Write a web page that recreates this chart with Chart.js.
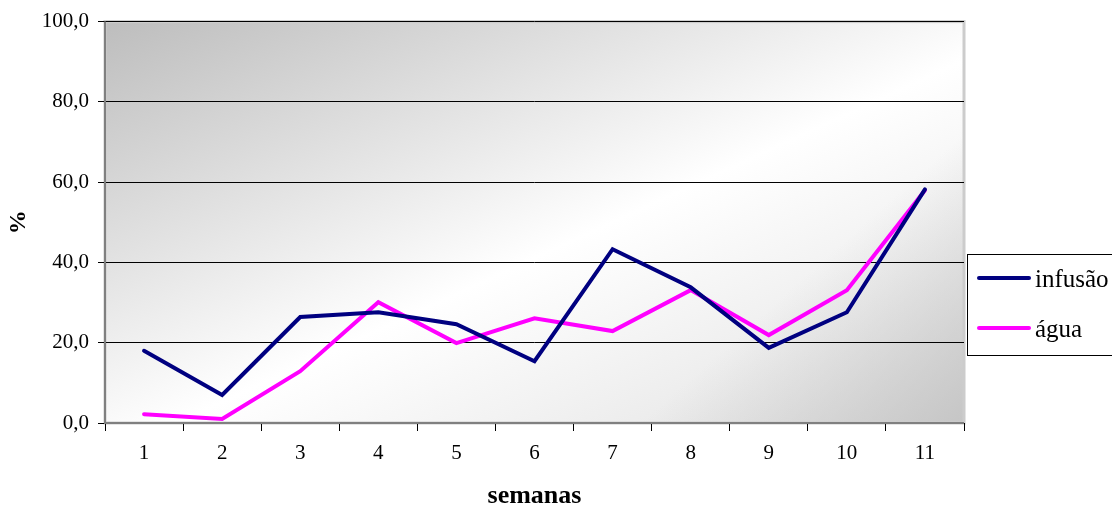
<!DOCTYPE html>
<html>
<head>
<meta charset="utf-8">
<script src="https://cdn.jsdelivr.net/npm/chart.js@4/dist/chart.umd.min.js"></script>
<style>
  html, body { margin: 0; padding: 0; background: #fff; }
  #wrap { width: 1112px; height: 506px; position: relative; }
</style>
</head>
<body>
<div id="wrap"><canvas id="myChart" width="1112" height="506"></canvas></div>
<script>
// chart data
const semanas = ["1", "2", "3", "4", "5", "6", "7", "8", "9", "10", "11"];
const infusao = [18.0, 7.0, 26.4, 27.6, 24.6, 15.4, 43.3, 33.8, 18.7, 27.6, 58.2];
const agua = [2.2, 1.0, 12.9, 30.1, 19.9, 26.1, 22.9, 33.1, 21.9, 33.1, 58.0];
const seriesNames = ["infusão", "água"];
const seriesColors = ["#000080", "#FF00FF"];

const serif = "'Liberation Serif', 'Times New Roman', serif";

// gray gradient behind the plot, axis frame and the legend box
const plotBackground = {
  id: "plotBackground",
  beforeDraw(chart) {
    const { ctx, chartArea: a } = chart;
    ctx.save();
    const g = ctx.createLinearGradient(a.left, a.top, a.left + 300, a.bottom + 250);
    g.addColorStop(0, "#bdbdbd");
    g.addColorStop(0.55, "#ffffff");
    g.addColorStop(1, "#e0e0e0");
    ctx.fillStyle = g;
    ctx.fillRect(a.left, a.top, a.right - a.left, a.bottom - a.top);
    const g2 = ctx.createLinearGradient(a.left + 500, a.top, a.right, a.bottom);
    g2.addColorStop(0, "rgba(200,200,200,0)");
    g2.addColorStop(0.6, "rgba(200,200,200,0)");
    g2.addColorStop(1, "rgba(195,195,195,0.9)");
    ctx.fillStyle = g2;
    ctx.fillRect(a.left, a.top, a.right - a.left, a.bottom - a.top);
    ctx.strokeStyle = "#cccccc";
    ctx.lineWidth = 3;
    ctx.strokeRect(a.left, a.top, a.right - a.left, a.bottom - a.top);
    ctx.restore();
  },
  afterDraw(chart) {
    const { ctx, chartArea: a } = chart;
    ctx.save();
    ctx.strokeStyle = "#808080";
    ctx.lineWidth = 2;
    ctx.beginPath();
    ctx.moveTo(a.left, a.top);
    ctx.lineTo(a.left, a.bottom);
    ctx.lineTo(a.right, a.bottom);
    ctx.stroke();

    // legend
    ctx.fillStyle = "#ffffff";
    ctx.fillRect(967, 254, 150, 101);
    ctx.strokeStyle = "#000";
    ctx.lineWidth = 1;
    ctx.strokeRect(967.5, 254.5, 150, 101);
    ctx.font = "25px " + serif;
    ctx.textBaseline = "alphabetic";
    chart.data.datasets.forEach((ds, i) => {
      const y = 278 + i * 50;
      ctx.strokeStyle = ds.borderColor;
      ctx.lineWidth = 4;
      ctx.lineCap = "round";
      ctx.beginPath();
      ctx.moveTo(979, y);
      ctx.lineTo(1029, y);
      ctx.stroke();
      ctx.fillStyle = "#000";
      ctx.fillText(ds.label, 1035, y + 9);
    });
    ctx.restore();
  }
};

const ctx = document.getElementById("myChart").getContext("2d");
new Chart(ctx, {
  type: "line",
  data: {
    labels: semanas,
    datasets: [
      { label: seriesNames[0], data: infusao, borderColor: seriesColors[0] },
      { label: seriesNames[1], data: agua, borderColor: seriesColors[1] }
    ]
  },
  options: {
    responsive: false,
    animation: false,
    layout: { padding: { top: 21, right: 148, left: 0, bottom: 0 } },
    elements: {
      line: { borderWidth: 4, tension: 0, borderCapStyle: "round", borderJoinStyle: "miter" },
      point: { radius: 0, hoverRadius: 0 }
    },
    plugins: {
      legend: { display: false },
      tooltip: { enabled: false }
    },
    scales: {
      x: {
        offset: true,
        grid: { offset: true, drawOnChartArea: false, color: "#000", tickLength: 8, lineWidth: 1 },
        border: { display: false },
        ticks: { color: "#000", font: { family: serif, size: 21 }, padding: 10, maxRotation: 0 },
        title: {
          display: true, text: "semanas", color: "#000",
          font: { family: serif, size: 26, weight: "bold", lineHeight: 0.75 },
          padding: { top: 0, bottom: 0 }
        },
        afterFit(s) { s.height = 83; }
      },
      y: {
        min: 0,
        max: 100,
        ticks: {
          stepSize: 20,
          color: "#000",
          font: { family: serif, size: 21 },
          padding: 9,
          callback: v => v.toFixed(1).replace(".", ",")
        },
        grid: { color: "#000", lineWidth: 1, tickLength: 7, drawTicks: true },
        border: { display: false },
        title: {
          display: true, text: "%", color: "#000",
          font: { family: serif, size: 24, weight: "bold" },
          padding: { top: 4, bottom: 0 }
        },
        afterFit(s) { s.width = 105; }
      }
    }
  },
  plugins: [plotBackground]
});
</script>
</body>
</html>
